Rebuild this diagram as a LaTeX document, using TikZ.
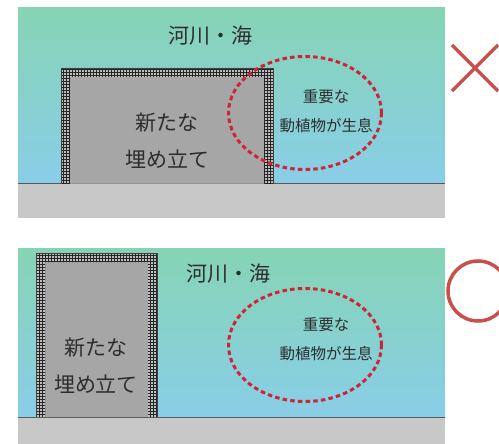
\documentclass[tikz,border=0pt]{standalone}
\usepackage{fontspec}
\setmainfont{Noto Sans CJK JP}
\usetikzlibrary{patterns,shapes.geometric}
\definecolor{seatop}{RGB}{134,212,180}
\definecolor{seabot}{RGB}{137,206,232}
\definecolor{groundgray}{RGB}{200,200,200}
\definecolor{landgray}{RGB}{166,166,166}
\definecolor{habitatred}{RGB}{206,36,56}
\definecolor{markred}{RGB}{200,80,74}
\definecolor{textgray}{RGB}{45,45,45}

\begin{document}
\begin{tikzpicture}[
    x=1pt, y=-1pt,
    every node/.style={text=textgray, inner sep=0pt},
    water/.style={top color=seatop, bottom color=seabot},
    ground/.style={fill=groundgray},
    shoreline/.style={draw=black!65, line width=1pt},
    landfill/.style={fill=landgray},
    seawall/.style={even odd rule, pattern=grid, pattern color=black!85},
    wallbase/.style={even odd rule, fill=black!25},
    habitat/.style={draw=habitatred, line width=3pt, dash pattern=on 4.5pt off 3.2pt,
                    ellipse, minimum width=153pt, minimum height=113pt},
    bigtext/.style={font=\fontsize{21}{37}\selectfont, align=center},
    smalltext/.style={font=\fontsize{15.5}{29}\selectfont, align=center},
    judgemark/.style={draw=markred, line width=3.5pt}
]
    \useasboundingbox (0,0) rectangle (499,444);
    \clip (0,0) rectangle (499,444);

    % Top panel: land fill over the habitat
    \shade[water] (18,8) rectangle (445,184);
    \fill[ground] (18,184) rectangle (445,218);
    \draw[shoreline] (18,184) -- (445,184);
    \fill[landfill] (70,77) rectangle (264,184);
    \fill[wallbase] (61,68) rectangle (273,184) (70,77) rectangle (264,184);
    \path[seawall] (61,68) rectangle (273,184) (70,77) rectangle (264,184);
    \draw[black!75, line width=0.7pt] (61,184) |- (273,68) -- (273,184);
    \node[bigtext] (sea1) at (210,36) {河川・海};
    \node[bigtext] (land1) at (167,141) {新たな\\埋め立て};
    \node[habitat] (hab1) at (305,113) {};
    \node[smalltext] (life1) at (326,111) {重要な\\動植物が生息};

    % Bottom panel: land fill kept away from it
    \shade[water] (18,248) rectangle (445,417);
    \fill[ground] (18,417) rectangle (445,444);
    \draw[shoreline] (18,417) -- (445,417);
    \fill[landfill] (45,262) rectangle (148,417);
    \fill[wallbase] (36,253) rectangle (157,417) (45,262) rectangle (148,417);
    \path[seawall] (36,253) rectangle (157,417) (45,262) rectangle (148,417);
    \draw[black!75, line width=0.7pt] (36,417) |- (157,253) -- (157,417);
    \node[bigtext] (sea2) at (228,274) {河川・海};
    \node[bigtext] (land2) at (96,366) {新たな\\埋め立て};
    \node[habitat] (hab2) at (305,345) {};
    \node[smalltext] (life2) at (326,339) {重要な\\動植物が生息};

    % Marks
    \coordinate (ng) at (475,68);
    \draw[judgemark] ([shift={(-23,-23)}]ng) -- ([shift={(23,23)}]ng);
    \draw[judgemark] ([shift={(-23,23)}]ng) -- ([shift={(23,-23)}]ng);
    \node[judgemark, circle, minimum size=60pt] (ok) at (478,291) {};
\end{tikzpicture}
\end{document}
